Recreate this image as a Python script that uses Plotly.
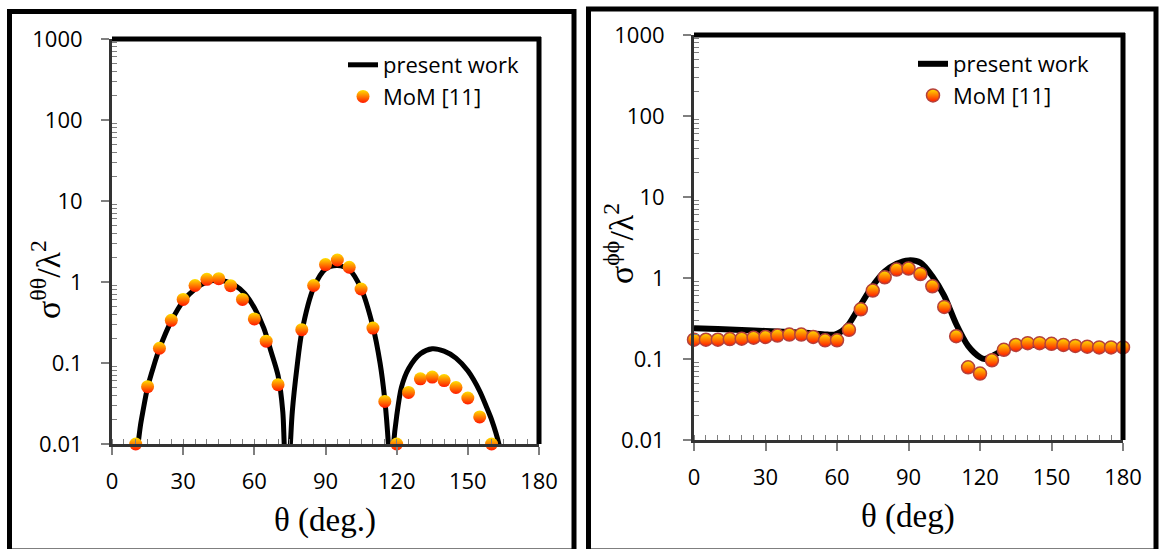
import plotly.graph_objects as go

# ---------------- data ----------------
# left panel: sigma_theta_theta / lambda^2
left_line_theta = [11, 12, 13, 15, 17.5, 20, 25, 30, 35, 40, 44, 48, 52, 56, 60, 64, 67, 70, 72,
                   72.6, 73.9, 75.2, 76, 78, 80, 85, 90, 95, 100, 105, 110, 113, 115, 116.5,
                   117.6, 118.7, 120, 122, 125, 130, 135, 140, 145, 150, 155, 158, 160, 163.1, 164]
left_line_sigma = [0.01, 0.017, 0.025, 0.05, 0.09, 0.15, 0.33, 0.58, 0.82, 1.0, 1.05, 1.02, 0.9,
                   0.72, 0.48, 0.27, 0.14, 0.07, 0.025, 0.01, 0.002, 0.01, 0.025, 0.09, 0.24,
                   0.85, 1.45, 1.6, 1.42, 0.83, 0.28, 0.1, 0.035, 0.01, 0.002, 0.01, 0.022,
                   0.05, 0.085, 0.13, 0.15, 0.14, 0.115, 0.08, 0.045, 0.028, 0.02, 0.01, 0.007]

left_mom_theta = [10, 15, 20, 25, 30, 35, 40, 45, 50, 55, 60, 65, 70, 80, 85, 90, 95, 100,
                  105, 110, 115, 120, 125, 130, 135, 140, 145, 150, 155, 160]
left_mom_sigma = [0.01, 0.051, 0.152, 0.336, 0.61, 0.905, 1.08, 1.1, 0.9, 0.61, 0.35, 0.186,
                  0.054, 0.258, 0.905, 1.64, 1.87, 1.52, 0.82, 0.27, 0.0335, 0.01, 0.0433,
                  0.0637, 0.067, 0.0607, 0.0498, 0.037, 0.0216, 0.01]

# right panel: sigma_phi_phi / lambda^2
right_line_theta = [0, 10, 20, 30, 40, 50, 56, 59, 62, 65, 70, 75, 80, 85, 90, 95, 100, 105,
                    110, 115, 120, 122, 125, 130, 135, 140, 150, 160, 170, 180]
right_line_sigma = [0.24, 0.235, 0.228, 0.222, 0.215, 0.207, 0.2, 0.2, 0.22, 0.27, 0.47, 0.8,
                    1.2, 1.5, 1.65, 1.55, 1.05, 0.6, 0.27, 0.145, 0.105, 0.1, 0.108, 0.13,
                    0.145, 0.15, 0.148, 0.143, 0.14, 0.138]

right_mom_theta = [0, 5, 10, 15, 20, 25, 30, 35, 40, 45, 50, 55, 60, 65, 70, 75, 80, 85, 90,
                   95, 100, 105, 110, 115, 120, 125, 130, 135, 140, 145, 150, 155, 160, 165,
                   170, 175, 180]
right_mom_sigma = [0.173, 0.173, 0.173, 0.176, 0.178, 0.183, 0.187, 0.195, 0.2, 0.2, 0.187,
                   0.17, 0.17, 0.229, 0.41, 0.70, 1.02, 1.27, 1.31, 1.12, 0.79, 0.44, 0.191,
                   0.079, 0.066, 0.0965, 0.13, 0.149, 0.157, 0.157, 0.154, 0.149, 0.145,
                   0.142, 0.139, 0.139, 0.139]

x_ticks = [0, 30, 60, 90, 120, 150, 180]
y_ticks = [0.01, 0.1, 1, 10, 100, 1000]
y_tick_text = ["0.01", "0.1", "1", "10", "100", "1000"]

# ---------------- figure ----------------
W, H = 1161, 549
fig = go.Figure()

TOP_COL, BOTTOM_COL = "#FFE000", "#FF1800"

fig.add_trace(go.Scatter(x=left_line_theta, y=left_line_sigma, mode="lines", name="present work",
                         line=dict(color="black", width=5, shape="spline", smoothing=0.8),
                         xaxis="x", yaxis="y", legend="legend"))
fig.add_trace(go.Scatter(x=left_mom_theta, y=left_mom_sigma, mode="markers", name="MoM [11]",
                         marker=dict(size=13, color=TOP_COL,
                                     gradient=dict(type="vertical", color=BOTTOM_COL),
                                     line=dict(width=0)),
                         cliponaxis=False, xaxis="x", yaxis="y", legend="legend"))
fig.add_trace(go.Scatter(x=right_line_theta, y=right_line_sigma, mode="lines", name="present work",
                         line=dict(color="black", width=6, shape="spline", smoothing=0.8),
                         xaxis="x2", yaxis="y2", legend="legend2"))
fig.add_trace(go.Scatter(x=right_mom_theta, y=right_mom_sigma, mode="markers", name="MoM [11]",
                         marker=dict(size=13, color=TOP_COL,
                                     gradient=dict(type="vertical", color=BOTTOM_COL),
                                     line=dict(width=1.5, color="#B5403A")),
                         cliponaxis=False, xaxis="x2", yaxis="y2", legend="legend2"))

SANS = "Open Sans"
tick_font = dict(family=SANS, size=22, color="black")
minor_log = [m * 10 ** e for e in range(-2, 3) for m in range(2, 10)]


def xaxis_style(domain, anchor):
    return dict(domain=domain, anchor=anchor, range=[0, 180], tickvals=x_ticks,
                ticks="outside", ticklen=8, tickwidth=1.5, tickcolor="#7f7f7f",
                showline=True, linecolor="#333333", linewidth=3, showgrid=False,
                zeroline=False, tickfont=tick_font, ticklabelstandoff=8, automargin=False,
                minor=dict(dtick=5, ticks="inside", ticklen=5, tickwidth=1.2,
                           tickcolor="#7f7f7f", showgrid=False))


def yaxis_style(domain, anchor):
    return dict(domain=domain, anchor=anchor, type="log", range=[-2, 3],
                tickvals=y_ticks, ticktext=y_tick_text,
                ticks="outside", ticklen=8, tickwidth=1.5, tickcolor="#7f7f7f",
                showline=True, linecolor="#333333", linewidth=3, showgrid=False,
                zeroline=False, tickfont=tick_font, ticklabelstandoff=14, automargin=False,
                minor=dict(tickvals=minor_log, ticks="inside", ticklen=5, tickwidth=1.2,
                           tickcolor="#7f7f7f", showgrid=False))


# plot-area pixel positions
Lx0, Lx1, Ly0, Ly1 = 112, 539, 39, 444
Rx0, Rx1, Ry0, Ry1 = 694, 1123, 35, 440

legend_font = dict(family=SANS, size=22, color="black")
fig.update_layout(
    width=W, height=H, autosize=False,
    margin=dict(l=0, r=0, t=0, b=0, pad=0, autoexpand=False),
    paper_bgcolor="white", plot_bgcolor="white",
    xaxis=xaxis_style([Lx0 / W, Lx1 / W], "y"),
    yaxis=yaxis_style([1 - Ly1 / H, 1 - Ly0 / H], "x"),
    xaxis2=xaxis_style([Rx0 / W, Rx1 / W], "y2"),
    yaxis2=yaxis_style([1 - Ry1 / H, 1 - Ry0 / H], "x2"),
    legend=dict(x=343 / W, y=1 - 44 / H, xanchor="left", yanchor="top",
                bgcolor="rgba(0,0,0,0)", font=legend_font, tracegroupgap=0),
    legend2=dict(x=913 / W, y=1 - 43 / H, xanchor="left", yanchor="top",
                 bgcolor="rgba(0,0,0,0)", font=legend_font, tracegroupgap=0),
    showlegend=True,
)

shapes = []
# outer panel frames
shapes.append(dict(type="rect", xref="paper", yref="paper", x0=9.5 / W, x1=574 / W,
                   y0=1 - 551 / H, y1=1 - 11.5 / H, line=dict(color="black", width=5)))
shapes.append(dict(type="rect", xref="paper", yref="paper", x0=588.5 / W, x1=1156 / W,
                   y0=1 - 551 / H, y1=1 - 9 / H, line=dict(color="black", width=5)))
# thick top / right plot-area frame
for (x0, x1, y0, y1) in [(Lx0, Lx1, Ly0, Ly1), (Rx0, Rx1, Ry0, Ry1)]:
    shapes.append(dict(type="line", xref="paper", yref="paper", x0=x0 / W, x1=(x1 + 2) / W,
                       y0=1 - y0 / H, y1=1 - y0 / H, line=dict(color="black", width=5)))
    shapes.append(dict(type="line", xref="paper", yref="paper", x0=x1 / W, x1=x1 / W,
                       y0=1 - (y0 - 2) / H, y1=1 - y1 / H, line=dict(color="black", width=5)))
fig.update_layout(shapes=shapes)

serif = "Liberation Serif"
ann_common = dict(xref="paper", yref="paper", showarrow=False, xanchor="center", yanchor="middle")
annotations = [
    dict(text="σ<sup>θθ</sup>/λ<sup>2</sup>", x=46 / W, y=1 - 280 / H, textangle=-90,
         font=dict(family=serif, size=34, color="black"), **ann_common),
    dict(text="σ<sup>ϕϕ</sup>/λ<sup>2</sup>", x=619 / W, y=1 - 244 / H, textangle=-90,
         font=dict(family=serif, size=34, color="black"), **ann_common),
    dict(text="θ (deg.)", x=325 / W, y=1 - 520 / H,
         font=dict(family=serif, size=33, color="black"), **ann_common),
    dict(text="θ (deg)", x=908 / W, y=1 - 516 / H,
         font=dict(family=serif, size=33, color="black"), **ann_common),
]
fig.update_layout(annotations=annotations)

fig.write_html("out.html",
               post_script="document.body.style.margin='0';document.body.style.overflow='hidden';")
